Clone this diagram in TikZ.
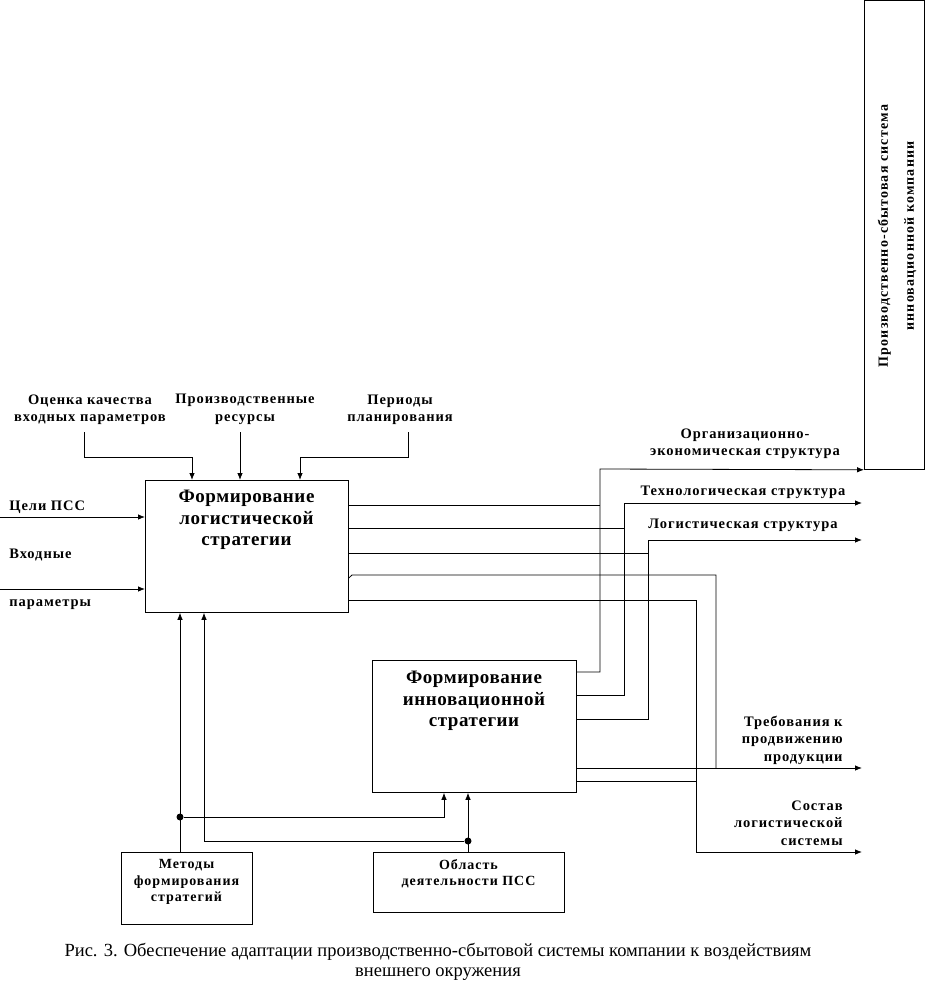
\documentclass[tikz,border=0pt]{standalone}
\usepackage{fontspec}
\setmainfont{Liberation Serif}
\usetikzlibrary{arrows.meta}
\begin{document}
\begin{tikzpicture}[x=1pt,y=-1pt,line width=0.8pt,
  arr/.style={-{Latex[length=7pt,width=5.5pt]}},
  box/.style={draw,anchor=north west,inner sep=0pt},
  lbl/.style={font=\fontsize{14.5}{17.5}\selectfont\bfseries\addfontfeature{LetterSpace=6.5},align=center,inner sep=1pt},
  ttl/.style={font=\fontsize{19}{21.5}\selectfont\bfseries\addfontfeature{LetterSpace=3},align=center,inner sep=0pt,anchor=north},
  sml/.style={font=\fontsize{14}{16.5}\selectfont\bfseries\addfontfeature{LetterSpace=7},align=center,inner sep=0pt,anchor=north},
  dot/.style={circle,fill,inner sep=0pt,minimum size=7pt}]
\useasboundingbox (0,0) rectangle (937,997);
% boxes
\node[box,minimum width=203pt,minimum height=132pt] (b1) at (145,480) {};
\node[ttl] (b1t) at (246.5,490) {Формирование\\логистической\\стратегии};
\node[box,minimum width=204pt,minimum height=132pt] (b2) at (372,660) {};
\node[ttl] (b2t) at (474,671) {Формирование\\инновационной\\стратегии};
\node[box,minimum width=60pt,minimum height=469pt] (vb) at (864,0) {};
\node[rotate=90,align=center,font=\fontsize{14}{26}\selectfont\bfseries\addfontfeature{LetterSpace=8}] (vbt) at (897,236) {Производственно-сбытовая система\\инновационной компании};
\node[box,minimum width=131pt,minimum height=72pt] (met) at (121,852) {};
\node[sml] (mett) at (186.5,859) {Методы\\формирования\\стратегий};
\node[box,minimum width=191pt,minimum height=60pt] (obl) at (373,852) {};
\node[sml] (oblt) at (468.5,859) {Область\\деятельности ПСС};
% top labels
\node[lbl,anchor=south] (l1) at (90,426) {Оценка качества\\входных параметров};
\node[lbl,anchor=south] (l2) at (245,426) {Производственные\\ресурсы};
\node[lbl,anchor=south] (l3) at (400,426) {Периоды\\планирования};
\draw[arr] (84,432) -- (84,457) -- (192,457) -- (b1.north -| 192,0);
\draw[arr] (240,432) -- (b1.north -| 240,0);
\draw[arr] (408,432) -- (408,457) -- (300,457) -- (b1.north -| 300,0);
% left inputs
\node[lbl,anchor=west] (lc) at (8,507) {Цели ПСС};
\node[lbl,anchor=west] (lv) at (8,555) {Входные};
\node[lbl,anchor=west] (lp) at (8,605) {параметры};
\coordinate (in1) at (0,517);
\coordinate (in2) at (0,589);
\draw[arr] (in1) -- (b1.west |- in1);
\draw[arr] (in2) -- (b1.west |- in2);
% right labels
\node[lbl] (lo) at (745,444) {Организационно-\\экономическая структура};
\node[lbl] (lt) at (743,492) {Технологическая структура};
\node[lbl] (ll) at (743,525) {Логистическая структура};
\node[lbl,align=right,anchor=east] (lr) at (844,740) {Требования к\\продвижению\\продукции};
\node[lbl,align=right,anchor=east] (ls) at (844,823) {Состав\\логистической\\системы};
\coordinate (oT) at (862,503);
\coordinate (oL) at (862,540);
\coordinate (oR) at (862,768);
\coordinate (oS) at (862,852);
% outputs
\draw (b1.east |- 0,505) -- (600,505);
\draw[arr] (b2.east |- 0,672) -- (600,672) -- (600,469) -- (vb.south west);
\draw (b1.east |- 0,528) -- (624,528);
\draw[arr] (b2.east |- 0,695) -- (624,695) -- (624,503) -- (oT);
\draw (b1.east |- 0,553) -- (648,553);
\draw[arr] (b2.east |- 0,719) -- (648,719) -- (648,540) -- (oL);
\draw (b1.east |- 0,578) -- (352,575) -- (716,575) -- (716,768);
\draw[arr] (b2.east |- 0,768) -- (oR);
\draw[arr] (b1.east |- 0,600) -- (696,600) -- (696,852) -- (oS);
\draw (b2.east |- 0,781) -- (696,781);
% bottom mechanisms
\node[dot] (d1) at (180,817) {};
\node[dot] (d2) at (468,841) {};
\draw[arr] (met.north -| d1) -- (b1.south -| d1);
\draw[arr] (d1) -- (444,817) -- (b2.south -| 444,0);
\draw[arr] (obl.north -| d2) -- (b2.south -| d2);
\draw[arr] (d2) -- (204,841) -- (b1.south -| 204,0);
% caption
\node[font=\fontsize{18.5}{19.5}\selectfont,align=center] (cap) at (438,962) {Рис. 3. Обеспечение адаптации производственно-сбытовой системы компании к воздействиям\\внешнего окружения};
\end{tikzpicture}
\end{document}
